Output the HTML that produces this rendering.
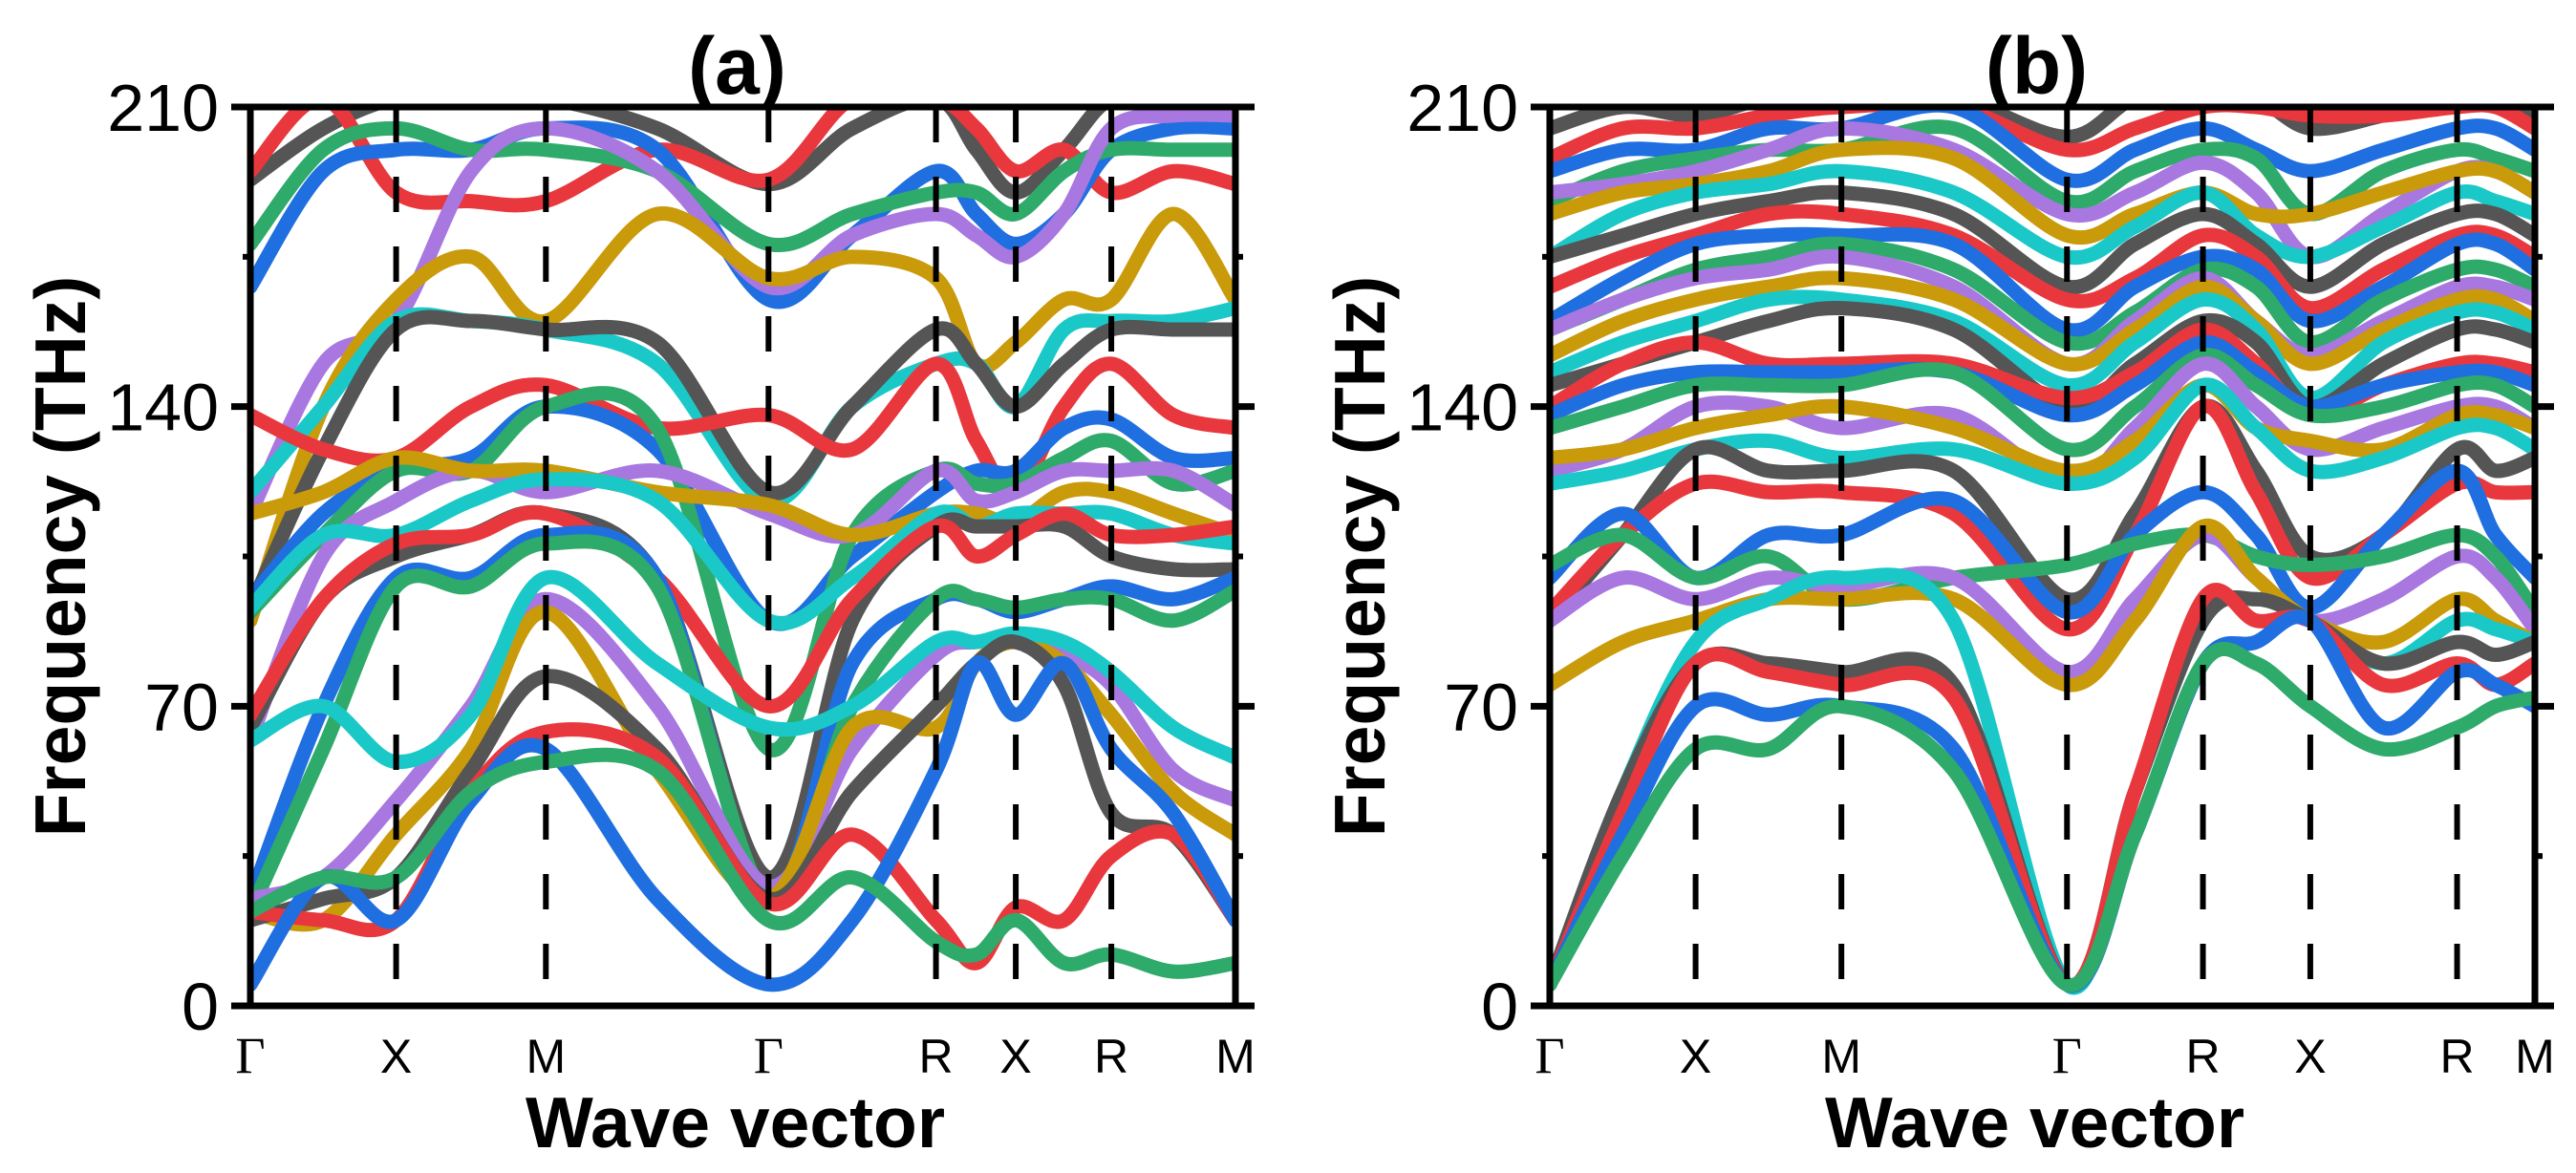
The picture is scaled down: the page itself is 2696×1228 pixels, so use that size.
<!DOCTYPE html>
<html><head><meta charset="utf-8">
<style>
html,body{margin:0;padding:0;background:#fff;}
svg{display:block;}
text{font-family:"Liberation Sans",sans-serif;fill:#000;}
</style></head>
<body>
<svg id="fig" width="2696" height="1228" viewBox="0 0 2696 1228" xmlns="http://www.w3.org/2000/svg">
<defs>
<clipPath id="clipA"><rect x="262" y="112" width="1031" height="941"/></clipPath>
<clipPath id="clipB"><rect x="1622" y="112" width="1031" height="941"/></clipPath>
</defs>
<g id="panelA"></g>
<g id="panelB"></g>
</svg>
<script>
// ---- data ----
const yTicks = [0, 70, 140, 210];
const yMinorTicks = [35, 105, 175];
const labelsA = ["Γ","X","M","Γ","R","X","R","M"];
const kposA = [0, 0.148, 0.300, 0.526, 0.696, 0.777, 0.874, 1.0];
const labelsB = ["Γ","X","M","Γ","R","X","R","M"];
const kposB = [0, 0.148, 0.296, 0.525, 0.663, 0.772, 0.921, 1.0];
const nodesA = [0,0.074,0.148,0.224,0.300,0.413,0.526,0.611,0.696,0.737,0.777,0.826,0.874,0.937,1.0];
const nodesB = [0,0.074,0.148,0.222,0.296,0.410,0.525,0.594,0.663,0.717,0.772,0.846,0.921,0.960,1.0];
const palette = ["#555555","#e8383d","#1f6fe0","#2eaa6a","#a877e0","#c99a0a","#1bc8c8"];
const bandsA = [
 [193,205,212,212,212,205,192,205,212,200,190,200,212,212,210],
 [195,212,190,188,188,200,193,212,212,205,195,200,190,195,192],
 [168,195,200,200,205,200,165,180,195,185,178,185,200,205,205],
 [178,200,205,200,200,195,178,185,190,190,185,195,200,200,200],
 [115,150,160,195,205,195,168,180,185,180,175,185,205,208,208],
 [90,140,165,175,160,185,170,175,170,150,155,165,165,185,165],
 [120,140,160,160,158,150,118,140,150,150,140,158,160,160,163],
 [93,130,158,160,158,155,120,140,158,150,140,150,158,158,158],
 [138,130,128,140,145,135,138,130,150,132,120,140,150,138,135],
 [95,115,125,128,140,130,90,105,120,125,125,135,137,128,128],
 [92,110,125,125,140,135,60,110,125,122,122,128,132,122,125],
 [62,105,118,125,120,125,115,110,125,118,120,125,125,125,117],
 [115,120,128,125,125,120,117,110,115,115,113,120,120,115,110],
 [93,110,110,118,123,118,90,100,115,112,115,115,115,110,108],
 [65,95,105,110,115,100,30,90,112,112,112,112,105,102,102],
 [68,95,108,110,115,100,70,95,112,105,110,115,110,110,112],
 [25,70,100,100,110,100,25,80,95,95,92,95,98,95,100],
 [22,60,98,98,108,98,25,70,95,95,93,95,95,90,97],
 [25,30,48,70,95,70,28,60,82,85,85,82,75,55,48],
 [22,20,40,60,92,55,25,65,65,80,85,80,68,50,40],
 [62,70,57,68,100,80,65,70,85,85,87,85,78,65,58],
 [20,25,30,55,77,60,25,50,70,80,85,75,45,40,20],
 [22,20,20,50,64,58,24,40,20,10,23,20,35,40,20],
 [5,30,20,48,60,25,5,20,55,80,68,80,60,45,20],
 [22,30,30,50,57,55,20,30,15,12,20,10,12,8,10]
];
const bandsB = [
 [205,210,208,212,212,212,203,212,212,212,205,208,212,212,208],
 [198,205,205,208,210,210,200,205,210,210,208,208,210,210,205],
 [195,200,200,205,205,210,193,200,205,200,195,200,205,205,200],
 [188,195,198,200,200,205,188,195,200,198,185,195,200,198,195],
 [190,192,195,200,205,200,185,190,197,190,175,185,195,195,190],
 [185,190,192,195,200,198,180,185,190,185,185,190,195,195,190],
 [175,185,190,192,195,190,175,182,190,180,175,182,190,188,185],
 [175,180,185,188,190,185,168,178,185,178,168,178,185,185,180],
 [168,175,180,185,185,180,165,170,180,175,163,172,180,180,175],
 [160,170,178,180,180,178,158,168,175,172,160,168,178,178,172],
 [158,165,172,175,178,172,155,162,172,168,155,165,172,172,168],
 [158,165,170,172,175,168,150,160,170,160,152,160,168,168,165],
 [152,160,165,168,170,165,150,158,168,160,150,158,165,165,160],
 [148,155,160,165,165,160,145,155,165,158,142,155,162,162,158],
 [145,150,155,160,163,158,140,150,160,155,140,150,158,158,155],
 [140,150,155,150,150,150,142,148,158,150,138,145,150,150,148],
 [138,145,148,148,148,148,138,145,155,148,140,145,148,148,145],
 [135,140,145,145,145,148,130,140,152,145,138,140,145,145,140],
 [125,130,140,140,135,138,122,135,150,140,130,135,140,140,135],
 [128,130,135,138,140,135,125,132,145,135,132,130,138,138,135],
 [122,125,130,132,128,130,122,128,145,135,125,128,135,135,130],
 [90,110,130,125,125,125,95,115,140,125,105,110,130,125,128],
 [92,110,122,120,120,115,88,110,140,120,100,110,122,120,120],
 [100,115,100,110,110,118,92,110,120,110,93,110,125,110,100],
 [103,110,100,105,95,100,103,108,110,105,103,105,110,105,92],
 [90,100,95,100,98,100,78,95,110,100,90,95,105,100,88],
 [75,85,90,95,95,95,75,90,112,100,90,85,95,90,85],
 [5,50,85,95,100,90,5,50,90,95,90,80,90,88,85],
 [5,50,80,80,78,75,5,50,90,95,90,80,85,82,85],
 [5,45,80,78,75,72,5,50,95,90,90,75,80,75,80],
 [5,40,70,68,70,60,5,40,80,85,90,65,78,75,70],
 [5,35,60,60,70,55,5,40,80,80,70,60,65,70,72]
];
// ---- drawing ----
const NS = "http://www.w3.org/2000/svg";
function mk(tag, attrs, parent){
  const e = document.createElementNS(NS, tag);
  for (const k in attrs) e.setAttribute(k, attrs[k]);
  parent.appendChild(e);
  return e;
}
function drawPanel(g, x0, title, labels, kpos, nodes, bands, clipId){
  const W = 1031, y0 = 112, H = 941;
  const sx = f => x0 + f*W;
  const sy = v => y0 + H - v/210*H;
  const series = mk("g", {"clip-path":"url(#"+clipId+")"}, g);
  
  
  bands.forEach((b, i) => {
    const pts = b.map((v, j) => [sx(nodes[j]), sy(v)]);
    let d = "M" + pts[0][0] + "," + pts[0][1];
    for (let j = 0; j < pts.length - 1; j++) {
      const p0 = pts[Math.max(j-1,0)], p1 = pts[j], p2 = pts[j+1], p3 = pts[Math.min(j+2,pts.length-1)];
      const c1x = p1[0] + (p2[0]-p0[0])/6, c1y = p1[1] + (p2[1]-p0[1])/6;
      const c2x = p2[0] - (p3[0]-p1[0])/6, c2y = p2[1] - (p3[1]-p1[1])/6;
      d += " C" + c1x + "," + c1y + " " + c2x + "," + c2y + " " + p2[0] + "," + p2[1];
    }
    const p = mk("path", {d: d, fill:"none", stroke: palette[i % palette.length], "stroke-width": 15, "stroke-linecap":"round"}, series);
    
    
  });
  kpos.forEach((k, i) => {
    if (i === 0 || i === kpos.length - 1) return;
    const l = mk("line", {x1: sx(k), x2: sx(k), y1: y0, y2: y0+H, stroke:"#000", "stroke-width":6, "stroke-dasharray":"37 36"}, g);
    
    
  });
  const fr = mk("rect", {x: x0, y: y0, width: W, height: H, fill:"none", stroke:"#000", "stroke-width":7}, g);
  
  
  yTicks.forEach(v => {
    const t1 = mk("line", {x1: x0-20, x2: x0, y1: sy(v), y2: sy(v), stroke:"#000", "stroke-width":7}, g);
    
    
    const t2 = mk("line", {x1: x0+W, x2: x0+W+20, y1: sy(v), y2: sy(v), stroke:"#000", "stroke-width":7}, g);
    
    
    const tl = mk("text", {x: x0-33, y: sy(v)+25, "text-anchor":"end", "font-size":70}, g);
    tl.textContent = String(v);
    
    
  });
  yMinorTicks.forEach(v => {
    const t1 = mk("line", {x1: x0-8, x2: x0, y1: sy(v), y2: sy(v), stroke:"#000", "stroke-width":6}, g);
    
    
    const t2 = mk("line", {x1: x0+W, x2: x0+W+8, y1: sy(v), y2: sy(v), stroke:"#000", "stroke-width":6}, g);
    
    
  });
  labels.forEach((s, i) => {
    const isG = s === "Γ";
    const t = mk("text", {x: sx(kpos[i]), y: 1123, "text-anchor":"middle", "font-size": isG ? 54 : 50}, g);
    if (isG) t.setAttribute("style", "font-family:'Liberation Serif',serif");
    t.textContent = s;
    
    
  });
  const tt = mk("text", {x: x0+W/2-6, y: 98, "text-anchor":"middle", "font-size":84, "font-weight":"bold"}, g);
  tt.textContent = title;
  
  
  const xl = mk("text", {x: x0+W/2-8, y: 1201, "text-anchor":"middle", "font-size":75, "font-weight":"bold"}, g);
  xl.textContent = "Wave vector";
  
  
  const yx = x0 - 173, yy = y0 + H/2;
  const yl = mk("text", {x: yx, y: yy, "text-anchor":"middle", "font-size":75, "font-weight":"bold", transform:"rotate(-90 "+yx+" "+yy+")"}, g);
  yl.textContent = "Frequency (THz)";
  
  
}
drawPanel(document.getElementById("panelA"), 262, "(a)", labelsA, kposA, nodesA, bandsA, "clipA");
drawPanel(document.getElementById("panelB"), 1622, "(b)", labelsB, kposB, nodesB, bandsB, "clipB");
</script>
</body></html>
